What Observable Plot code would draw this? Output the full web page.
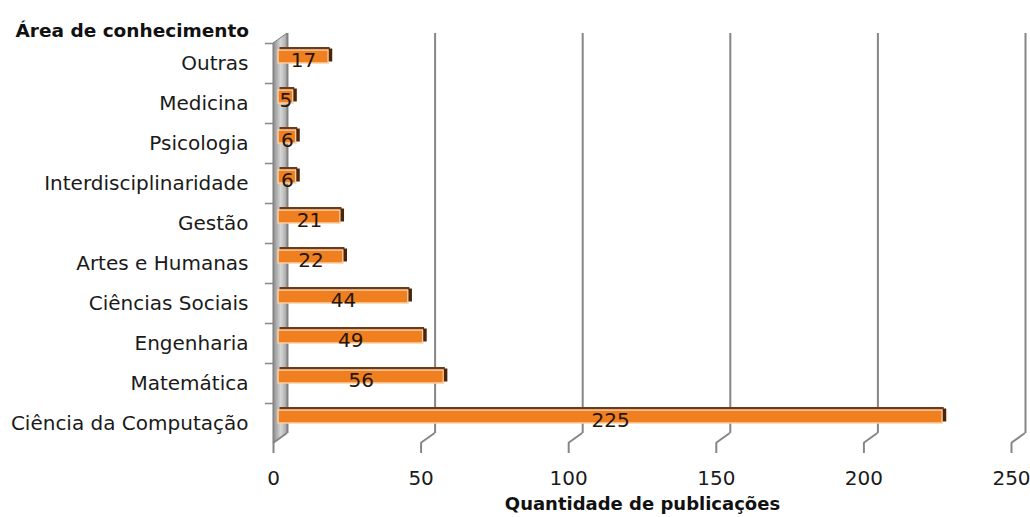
<!DOCTYPE html>
<html>
<head>
<meta charset="utf-8">
<script src="https://cdn.jsdelivr.net/npm/d3@7"></script>
<script src="https://cdn.jsdelivr.net/npm/@observablehq/plot@0.6"></script>
<style>
  html, body { margin: 0; padding: 0; background: #ffffff; }
  #chart svg { display: block; }
</style>
</head>
<body>
<div id="chart"></div>
<script>
// Publications per knowledge area
const areas = [
  "Outras", "Medicina", "Psicologia", "Interdisciplinaridade", "Gestão",
  "Artes e Humanas", "Ciências Sociais", "Engenharia", "Matemática",
  "Ciência da Computação"
];
const publicacoes = [17, 5, 6, 6, 21, 22, 44, 49, 56, 225];
const xTicks = [0, 50, 100, 150, 200, 250];
const tituloEixoY = "Área de conhecimento";
const tituloEixoX = "Quantidade de publicações";

const rows = areas.map((area, i) => ({area, value: publicacoes[i]}));

// pseudo-3D depth of the back wall relative to the front plane
const back = {dx: 14, dy: -10};
const gridColor = "#868686";

// left side wall + floor edges, positioned from the x scale and frame
function wallAndFloor(index, scales, values, dim) {
  const g = d3.create("svg:g");
  const x = scales.x;
  const top = dim.marginTop, bottom = dim.height - dim.marginBottom;
  const x0 = x(0);
  const defs = g.append("defs");
  const grad = defs.append("linearGradient").attr("id", "wallGrad")
    .attr("x1", "0").attr("x2", "1").attr("y1", "0").attr("y2", "0");
  grad.append("stop").attr("offset", "0%").attr("stop-color", "#8a8a8a");
  grad.append("stop").attr("offset", "55%").attr("stop-color", "#d6d6d6");
  grad.append("stop").attr("offset", "100%").attr("stop-color", "#a5a5a5");
  g.append("path")
    .attr("d", `M${x0},${top} L${x0 + back.dx},${top + back.dy} L${x0 + back.dx},${bottom + back.dy} L${x0},${bottom} Z`)
    .attr("fill", "url(#wallGrad)")
    .attr("stroke", "#7a7a7a")
    .attr("stroke-width", 1);
  // floor: slanted segments joining each back gridline to the front tick
  for (const t of xTicks) {
    const xt = x(t);
    g.append("path")
      .attr("d", `M${xt},${bottom} L${xt + back.dx},${bottom + back.dy}`)
      .attr("stroke", gridColor)
      .attr("stroke-width", 2)
      .attr("fill", "none");
  }
  return g.node();
}

const chart = Plot.plot({
  width: 1030,
  height: 517,
  marginTop: 43,
  marginBottom: 74,
  marginLeft: 273,
  marginRight: 19,
  style: {fontFamily: "DejaVu Sans", fontSize: "20px", color: "#1a1a1a", background: "#ffffff"},
  x: {domain: [0, 250], ticks: xTicks},
  y: {domain: areas, padding: 0, round: false},
  marks: [
    // back-wall gridlines
    Plot.ruleX(xTicks, {x: d => d, dx: back.dx, dy: back.dy, stroke: gridColor, strokeWidth: 2}),
    wallAndFloor,
    // front floor edge
    Plot.ruleY([0], {frameAnchor: "bottom", x1: 0, x2: 250, insetLeft: -8, stroke: gridColor, strokeWidth: 2}),
    // category separators on the wall
    Plot.ruleY(areas, {y: d => d, x1: 0, x2: 0, insetLeft: -8, dy: -20, stroke: gridColor, strokeWidth: 1.5}),
    Plot.axisX({
      ticks: xTicks, tickSize: 10, tickPadding: 17, stroke: gridColor, strokeWidth: 2,
      fill: "#1a1a1a", fontSize: 20, label: null
    }),
    Plot.axisY({tickSize: 0, tickPadding: 25, fill: "#1a1a1a", fontSize: 20, dy: 0, label: null}),
    // bar top face
    Plot.barX(rows, {
      y: "area", x: "value", dx: 6.5,
      insetTop: 4, insetBottom: 33, fill: "#6e3b15"
    }),
    // bar front face
    Plot.barX(rows, {
      y: "area", x: "value", dx: 5,
      insetTop: 7, insetBottom: 20,
      fill: "#f07f1f", stroke: "#fbcfa5", strokeWidth: 1.5
    }),
    // bar end face
    Plot.tickX(rows, {
      y: "area", x: "value", dx: 6.8,
      insetTop: 5.5, insetBottom: 21.5, stroke: "#4a2508", strokeWidth: 3.5
    }),
    // value labels
    Plot.text(rows, {
      y: "area", x: d => d.value / 2, dx: 5, dy: -3,
      text: d => String(d.value), fill: "#24160a", fontSize: 20
    }),
    // axis titles
    Plot.text([tituloEixoY], {
      frameAnchor: "top-left", dx: -258, dy: -20, textAnchor: "start",
      fontWeight: "bold", fontSize: 18.5, fill: "#111"
    }),
    Plot.text([tituloEixoX], {
      frameAnchor: "bottom", dy: 66, fontWeight: "bold", fontSize: 18, fill: "#111"
    })
  ]
});

document.getElementById("chart").appendChild(chart);
</script>
</body>
</html>
